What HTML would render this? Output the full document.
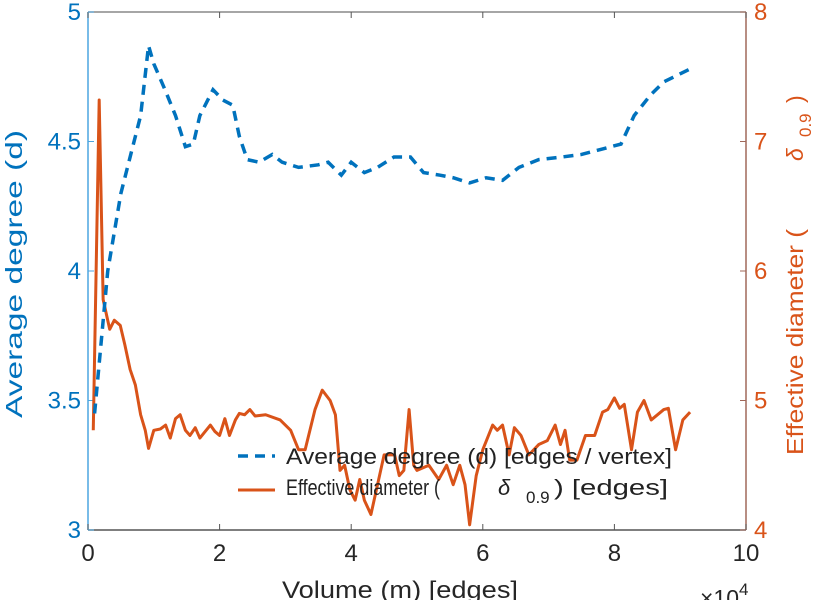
<!DOCTYPE html>
<html><head><meta charset="utf-8"><style>
body{margin:0;background:#fff;}
svg{display:block;font-family:"Liberation Sans",sans-serif;}
</style></head><body>
<svg id="chart" width="821" height="600" viewBox="0 0 821 600" xmlns="http://www.w3.org/2000/svg">
<g id="axes"></g>
<g id="series"></g>
<g id="legend">
  <line x1="238" y1="456" x2="275" y2="456" stroke="#0072BD" stroke-width="3.5" stroke-dasharray="10,7"/>
  <text x="286" y="464" font-size="22" fill="#222" textLength="386" lengthAdjust="spacingAndGlyphs">Average degree (d) [edges / vertex]</text>
  <line x1="238" y1="490" x2="275" y2="490" stroke="#D95319" stroke-width="3"/>
  <g font-size="22" fill="#222">
    <text x="286" y="495" textLength="154" lengthAdjust="spacingAndGlyphs">Effective diameter (</text>
    <text x="498" y="495" font-style="italic">δ</text>
    <text x="526" y="503" font-size="17">0.9</text>
    <text x="554" y="495" textLength="114" lengthAdjust="spacingAndGlyphs">) [edges]</text>
  </g>
</g>
<text x="282" y="598" font-size="24" fill="#262626" textLength="236" lengthAdjust="spacingAndGlyphs">Volume (m) [edges]</text>
<text x="700" y="606" font-size="23" fill="#262626">×10<tspan font-size="17" dy="-11">4</tspan></text>
<text transform="translate(22,418) rotate(-90)" font-size="23" fill="#0072BD" textLength="288" lengthAdjust="spacingAndGlyphs">Average degree (d)</text>
<g transform="translate(803,455) rotate(-90)" font-size="23" fill="#D95319">
  <text x="0" y="0" textLength="226" lengthAdjust="spacingAndGlyphs">Effective diameter (</text>
  <text x="294" y="0" font-style="italic">δ</text>
  <text x="318" y="8" font-size="17">0.9</text>
  <text x="352" y="0">)</text>
</g>
</svg>
<script>
const xTicks=[0,2,4,6,8,10];
const leftTicks=[3,3.5,4,4.5,5];
const leftTickLabels=["3","3.5","4","4.5","5"];
const rightTicks=[4,5,6,7,8];
const avgX=[0.1,0.3,0.5,0.65,0.8,0.92,1.0,1.17,1.33,1.48,1.6,1.7,1.9,2.05,2.2,2.3,2.42,2.6,2.8,2.95,3.2,3.5,3.65,3.85,4.0,4.2,4.4,4.65,4.9,5.1,5.35,5.55,5.8,6.05,6.3,6.55,6.85,7.2,7.5,7.8,8.1,8.3,8.55,8.75,9.15];
const avgY=[3.45,4.0,4.3,4.45,4.6,4.87,4.8,4.7,4.6,4.48,4.49,4.6,4.7,4.66,4.64,4.52,4.43,4.42,4.45,4.42,4.4,4.41,4.42,4.37,4.42,4.38,4.4,4.44,4.44,4.38,4.37,4.36,4.34,4.36,4.35,4.4,4.43,4.44,4.45,4.47,4.49,4.6,4.68,4.73,4.78];
const diaX=[0.08,0.17,0.23,0.33,0.4,0.49,0.56,0.64,0.72,0.8,0.87,0.92,1.0,1.1,1.18,1.25,1.33,1.4,1.48,1.55,1.63,1.7,1.86,1.93,2.0,2.08,2.15,2.24,2.3,2.38,2.46,2.54,2.7,2.92,3.08,3.2,3.3,3.45,3.56,3.68,3.76,3.83,3.9,3.98,4.06,4.13,4.2,4.3,4.4,4.5,4.66,4.73,4.8,4.88,4.95,5.0,5.18,5.33,5.45,5.55,5.65,5.73,5.8,5.9,6.0,6.15,6.22,6.3,6.4,6.48,6.58,6.7,6.85,6.98,7.1,7.18,7.25,7.32,7.43,7.56,7.7,7.82,7.9,8.0,8.08,8.15,8.26,8.35,8.45,8.56,8.75,8.82,8.93,9.04,9.15];
const diaY=[4.77,7.32,5.78,5.55,5.62,5.58,5.43,5.24,5.12,4.89,4.77,4.63,4.77,4.78,4.81,4.71,4.86,4.89,4.77,4.73,4.79,4.71,4.81,4.76,4.73,4.86,4.73,4.85,4.9,4.89,4.93,4.88,4.89,4.85,4.77,4.62,4.62,4.93,5.08,5.0,4.89,4.46,4.5,4.31,4.23,4.39,4.23,4.12,4.35,4.58,4.58,4.42,4.46,4.93,4.5,4.46,4.5,4.39,4.5,4.35,4.5,4.35,4.04,4.42,4.62,4.81,4.77,4.81,4.58,4.79,4.73,4.58,4.66,4.69,4.81,4.66,4.77,4.54,4.54,4.73,4.73,4.91,4.93,5.02,4.94,4.97,4.62,4.91,5.0,4.85,4.93,4.94,4.62,4.85,4.91];

const NS="http://www.w3.org/2000/svg";
const L=88,R=746,T=12,B=530;
const sx=v=>L+(v-0)/(10-0)*(R-L);
const syL=v=>B-(v-3)/(5-3)*(B-T);
const syR=v=>B-(v-4)/(8-4)*(B-T);
function mk(tag,attrs,parent){const e=document.createElementNS(NS,tag);for(const k in attrs)e.setAttribute(k,attrs[k]);parent.appendChild(e);return e;}
const axes=document.getElementById('axes');
let e;
e=mk('line',{x1:L,y1:T,x2:R,y2:T,stroke:'#888','stroke-width':1.5},axes);


e=mk('line',{x1:L,y1:B,x2:R,y2:B,stroke:'#555','stroke-width':1.5},axes);


e=mk('line',{x1:L,y1:T,x2:L,y2:B,stroke:'#4da6e0','stroke-width':1.5},axes);


e=mk('line',{x1:R,y1:T,x2:R,y2:B,stroke:'#a0685a','stroke-width':1.5},axes);


xTicks.forEach(v=>{
  const x=sx(v);
  e=mk('line',{x1:x,y1:B,x2:x,y2:B-6,stroke:'#555','stroke-width':1},axes);
  
  
  e=mk('line',{x1:x,y1:T,x2:x,y2:T+6,stroke:'#555','stroke-width':1},axes);
  
  
  e=mk('text',{x:x,y:B+31,'font-size':24,fill:'#262626','text-anchor':'middle'},axes);
  e.textContent=String(v);
  
  
});
leftTicks.forEach((v,i)=>{
  const y=syL(v);
  e=mk('line',{x1:L,y1:y,x2:L+6,y2:y,stroke:'#4da6e0','stroke-width':1},axes);
  
  
  e=mk('text',{x:L-7,y:y+8,'font-size':24,fill:'#0072BD','text-anchor':'end'},axes);
  e.textContent=leftTickLabels[i];
  
  
});
rightTicks.forEach(v=>{
  const y=syR(v);
  e=mk('line',{x1:R,y1:y,x2:R-6,y2:y,stroke:'#a0685a','stroke-width':1},axes);
  
  
  e=mk('text',{x:R+8,y:y+8,'font-size':24,fill:'#D95319','text-anchor':'start'},axes);
  e.textContent=String(v);
  
  
});
const series=document.getElementById('series');
e=mk('polyline',{points:diaX.map((x,i)=>sx(x)+','+syR(diaY[i])).join(' '),fill:'none',stroke:'#D95319','stroke-width':3,'stroke-linejoin':'round'},series);


e=mk('polyline',{points:avgX.map((x,i)=>sx(x)+','+syL(avgY[i])).join(' '),fill:'none',stroke:'#0072BD','stroke-width':3.5,'stroke-dasharray':'10,7'},series);


</script>
</body></html>
